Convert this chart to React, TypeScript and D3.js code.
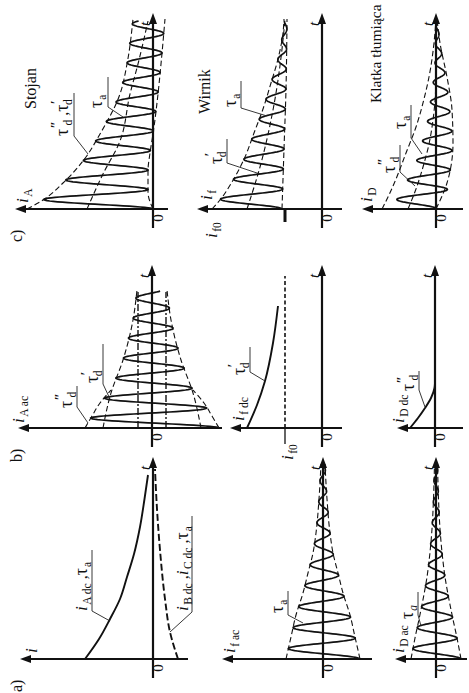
import React from "react";
import * as d3 from "d3";

const FONT = "'Liberation Serif', 'Times New Roman', serif";
const INK = "#111";

// ---------- data (t = time along the axis, i = current; both in axis units) ----------
// a) stator dc components
const tAdc = [0, 20, 40, 60, 82, 105, 132, 160, 184];
const iAdc = [68, 54, 43, 33, 26, 19, 13, 8.5, 5];
const tBCdc = [0, 27, 60, 109, 150, 190];
const iBCdc = [-25, -17, -12, -7, -4, -2];
// a) rotor and damper ac components (symmetric envelopes)
const tFac = [0, 22, 44, 66, 86, 106, 126, 160, 195];
const envFac = [37, 32, 27, 20, 15, 10, 7, 4, 2];
const tDac = [0, 21, 42, 62, 82, 102, 130, 160, 195];
const envDac = [25, 21, 16.5, 12.5, 9, 6.5, 4, 2.5, 1.5];
// b) stator ac component
const tAacTrans = [0, 35, 68, 108, 138];
const envAacTrans = [49, 41, 29, 19, 15];
const tAacSub = [0, 12, 25, 38];
const envAacSub = [67, 60, 52, 41];
const tAacWave = [0, 12, 25, 40, 68, 108, 138];
const envAacWave = [67, 60, 51, 40, 29, 19, 15];
const iAss = 14;
const tAssEnd = 136;
// b) rotor and damper dc components
const tFdc = [0, 23, 47, 85, 122];
const iFdc = [75, 65, 57, 49, 44];
const iF0 = 37;
const tF0End = 152;
const tDdc = [0, 10, 20, 30, 40, 45];
const iDdc = [25, 17, 10, 4, 0.5, 0];
// c) stator total current
const tAupper = [0, 9, 26, 48, 75, 115, 145, 190];
const iAupper = [126, 110, 90, 70, 53, 33, 26, 20];
const tAlower = [0, 17, 38, 56, 75, 115, 145, 190];
const iAlower = [0, 5, 5, 3, 0, -5, -8, -12];
const tAmid = [0, 35, 68, 115, 145, 188];
const iAmid = [66, 50, 33, 23, 15, 5];
// c) rotor total current
const tFupper = [0, 9, 27, 52, 76, 100, 126, 150, 176, 190];
const iFupper = [110, 102, 90, 77, 68, 59, 51, 44, 39, 38];
const tFlower = [0, 60, 120, 190];
const iFlower = [40, 38, 36, 35];
const tFmid = [0, 42, 99, 169, 190];
const iFmid = [75, 62, 49, 39, 37];
// c) damper total current
const tDupperEnv = [0, 12, 30, 56, 82, 110, 132, 166, 190];
const iDupperEnv = [54, 48, 40, 30, 20, 12, 7, 2, 0];
const tDmid = [0, 20, 42, 65, 89, 116, 140];
const iDmid = [28, 20, 13, 7, 3, 0.5, 0];
const tDlowerEnv = [0, 26, 66, 99, 132, 166, 190];
const iDlowerEnv = [0, -11, -17, -16, -11, -4, -1];
const tDwaveUp = [0, 8, 26, 46, 66, 84, 104, 124, 146, 190];
const iDwaveUp = [45, 40, 30, 20, 14, 9, 6, 3, 1, 0];
const tDwaveLo = [0, 17, 36, 56, 76, 96, 116, 136, 160, 190];
const iDwaveLo = [0, -11, -14, -16, -16, -14, -12, -9, -5, -1];

// ---------- layout ----------
const COL = {
  a: { y0: 659, tip: 457 },
  b: { y0: 428, tip: 265 },
  c: { y0: 209, tip: 13 },
};
const ROW = { st: 153, ro: 323, dm: 436 };

type Pt = [number, number];
const pairs = (ts: number[], vs: number[]): Pt[] => ts.map((t, i) => [t, vs[i]]);
const neg = (vs: number[]) => vs.map((v) => -v);

function makeScales(x0: number, y0: number) {
  const sx = d3.scaleLinear().domain([0, 100]).range([x0, x0 - 100]);
  const sy = d3.scaleLinear().domain([0, 100]).range([y0, y0 - 100]);
  const smooth = d3
    .line<Pt>()
    .x((d) => sx(d[1]))
    .y((d) => sy(d[0]))
    .curve(d3.curveMonotoneY);
  const straight = d3
    .line<Pt>()
    .x((d) => sx(d[1]))
    .y((d) => sy(d[0]));
  return { sx, sy, smooth, straight };
}

// oscillation filling the band between an upper and a lower envelope
function oscillation(
  tU: number[],
  vU: number[],
  tL: number[],
  vL: number[],
  period: number,
  tEnd: number
): Pt[] {
  const U = d3.scaleLinear().domain(tU).range(vU).clamp(true);
  const L = d3.scaleLinear().domain(tL).range(vL).clamp(true);
  return d3.range(0, tEnd + 0.01, 0.4).map((t) => {
    const c = (U(t) + L(t)) / 2;
    const a = (U(t) - L(t)) / 2;
    return [t, c - a * Math.cos((2 * Math.PI * t) / period)] as Pt;
  });
}

function Axes({ x0, y0, tip, iFrom, iTo }: { x0: number; y0: number; tip: number; iFrom: number; iTo: number }) {
  return (
    <g>
      <line x1={iFrom + 8} y1={y0} x2={iTo} y2={y0} stroke={INK} strokeWidth={2.2} />
      <path d={`M${iFrom},${y0} L${iFrom + 11},${y0 - 4} L${iFrom + 11},${y0 + 4} Z`} fill={INK} />
      <line x1={x0} y1={y0 + 19} x2={x0} y2={tip + 8} stroke={INK} strokeWidth={2.2} />
      <path d={`M${x0},${tip} L${x0 - 4},${tip + 11} L${x0 + 4},${tip + 11} Z`} fill={INK} />
      <RT x={x0 - 3} y={tip + 13} size={15} italic>
        t
      </RT>
      <RT x={x0 + 10} y={y0 + 9} size={15} anchor="middle">
        0
      </RT>
    </g>
  );
}

function RT({
  x,
  y,
  size = 16,
  anchor = "start",
  italic = false,
  children,
}: {
  x: number;
  y: number;
  size?: number;
  anchor?: string;
  italic?: boolean;
  children: React.ReactNode;
}) {
  return (
    <text
      transform={`translate(${x},${y}) rotate(-90)`}
      fontFamily={FONT}
      fontSize={size}
      textAnchor={anchor}
      fontStyle={italic ? "italic" : "normal"}
      fill={INK}
    >
      {children}
    </text>
  );
}

// current symbol with subscript, e.g. i_{A dc}
function Cur({ sub, size = 17 }: { sub: string; size?: number }) {
  return (
    <>
      <tspan fontStyle="italic" fontSize={size}>
        i
      </tspan>
      <tspan fontSize={size * 0.68} dy={3.5} dx={1.5}>
        {sub}
      </tspan>
      <tspan dy={-3.5}> </tspan>
    </>
  );
}

// tau with optional prime marks and subscript
function Tau({ prime = "", sub, italicSub = false }: { prime?: string; sub: string; italicSub?: boolean }) {
  return (
    <>
      <tspan fontSize={18}>τ</tspan>
      {prime ? (
        <>
          <tspan fontSize={14} dy={-7} fontStyle="italic" fontWeight="bold">
            {prime}
          </tspan>
          <tspan fontSize={11.5} dy={11} dx={prime.length > 1 ? -8 : -4.5} fontStyle={italicSub ? "italic" : "normal"}>
            {sub}
          </tspan>
          <tspan dy={-4}> </tspan>
        </>
      ) : (
        <>
          <tspan fontSize={11.5} dy={4} dx={1} fontStyle={italicSub ? "italic" : "normal"}>
            {sub}
          </tspan>
          <tspan dy={-4}> </tspan>
        </>
      )}
    </>
  );
}

function Leader({ ux, y1, y2, tx, ty }: { ux: number; y1: number; y2: number; tx: number; ty: number }) {
  return <polyline points={`${ux},${y1} ${ux},${y2} ${tx},${ty}`} fill="none" stroke="#222" strokeWidth={0.9} />;
}

const DASH = "5.5 3";

export default function App() {
  const aSt = makeScales(ROW.st, COL.a.y0);
  const aRo = makeScales(ROW.ro, COL.a.y0);
  const aDm = makeScales(ROW.dm, COL.a.y0);
  const bSt = makeScales(152, COL.b.y0);
  const bRo = makeScales(322, COL.b.y0);
  const bDm = makeScales(435, COL.b.y0);
  const cSt = makeScales(ROW.st, COL.c.y0);
  const cRo = makeScales(322, COL.c.y0);
  const cDm = makeScales(ROW.dm, COL.c.y0);

  const waveFac = oscillation(tFac, envFac, tFac, neg(envFac), 21, 195);
  const waveDac = oscillation(tDac, envDac, tDac, neg(envDac), 21, 195);
  const waveAac = oscillation(tAacWave, envAacWave, tAacWave, neg(envAacWave), 20, 137);
  const waveA = oscillation(tAupper, iAupper, tAlower, iAlower, 19.5, 188);
  const waveF = oscillation(tFupper, iFupper, tFlower, iFlower, 20, 188);
  const waveD = oscillation(tDwaveUp, iDwaveUp, tDwaveLo, iDwaveLo, 19.5, 190);

  const thin = { fill: "none", stroke: INK, strokeWidth: 1.1, strokeDasharray: DASH };
  const heavy = { fill: "none", stroke: INK, strokeWidth: 1.7 };
  const solid = { fill: "none", stroke: INK, strokeWidth: 1.9 };

  return (
    <svg
      width={469}
      height={693}
      viewBox="0 0 469 693"
      style={{ position: "absolute", left: 0, top: 0, background: "#fff" }}
    >
      <rect width={469} height={693} fill="#fff" />

      {/* ---------------- column a) ---------------- */}
      <RT x={22} y={692} size={16}>
        a)
      </RT>
      <Axes x0={ROW.st} y0={COL.a.y0} tip={COL.a.tip} iFrom={20} iTo={188} />
      <path d={aSt.smooth(pairs(tAdc, iAdc)) || ""} {...solid} />
      <path d={aSt.smooth(pairs(tBCdc, iBCdc)) || ""} {...solid} strokeDasharray="7 3" />
      <RT x={37} y={653} size={17}>
        <tspan fontStyle="italic">i</tspan>
      </RT>
      <RT x={87} y={611}>
        <Cur sub="A dc" />
        <tspan>,</tspan>
        <Tau sub="a" />
      </RT>
      <Leader ux={92} y1={550} y2={611} tx={110} ty={621} />
      <RT x={188} y={611}>
        <Cur sub="B dc" />
        <tspan>,</tspan>
        <Cur sub="C dc" />
        <tspan>,</tspan>
        <Tau sub="a" />
      </RT>
      <Leader ux={192} y1={516} y2={612} tx={170} ty={632} />

      <Axes x0={ROW.ro} y0={COL.a.y0} tip={COL.a.tip} iFrom={222} iTo={372} />
      <path d={aRo.smooth(pairs(tFac, envFac)) || ""} {...thin} />
      <path d={aRo.smooth(pairs(tFac, neg(envFac))) || ""} {...thin} />
      <path d={aRo.straight(waveFac) || ""} {...heavy} />
      <RT x={235} y={653}>
        <Cur sub="f ac" />
      </RT>
      <RT x={283} y={613}>
        <Tau sub="a" />
      </RT>
      <Leader ux={288} y1={591} y2={615} tx={303} ty={623} />

      <Axes x0={ROW.dm} y0={COL.a.y0} tip={COL.a.tip} iFrom={395} iTo={467} />
      <path d={aDm.smooth(pairs(tDac, envDac)) || ""} {...thin} />
      <path d={aDm.smooth(pairs(tDac, neg(envDac))) || ""} {...thin} />
      <path d={aDm.straight(waveDac) || ""} {...heavy} />
      <RT x={404} y={653}>
        <Cur sub="D ac" />
      </RT>
      <RT x={413} y={619}>
        <Tau sub="a" italicSub />
      </RT>
      <Leader ux={418} y1={592} y2={615} tx={421} ty={626} />

      {/* ---------------- column b) ---------------- */}
      <RT x={22} y={462} size={16}>
        b)
      </RT>
      <Axes x0={152} y0={COL.b.y0} tip={COL.b.tip} iFrom={18} iTo={222} />
      <path d={bSt.straight(pairs([0, tAssEnd], [iAss, iAss])) || ""} fill="none" stroke={INK} strokeWidth={1.4} strokeDasharray="7 2 2 2" />
      <path d={bSt.straight(pairs([0, tAssEnd], [-iAss, -iAss])) || ""} fill="none" stroke={INK} strokeWidth={1.4} strokeDasharray="7 2 2 2" />
      <path d={bSt.smooth(pairs(tAacTrans, envAacTrans)) || ""} {...thin} />
      <path d={bSt.smooth(pairs(tAacTrans, neg(envAacTrans))) || ""} {...thin} />
      <path d={bSt.smooth(pairs(tAacSub, envAacSub)) || ""} {...thin} />
      <path d={bSt.smooth(pairs(tAacSub, neg(envAacSub))) || ""} {...thin} />
      <path d={bSt.straight(waveAac) || ""} {...heavy} />
      <RT x={24} y={423}>
        <Cur sub="A ac" />
      </RT>
      <RT x={72} y={408}>
        <Tau prime="″" sub="d" />
      </RT>
      <Leader ux={77} y1={386} y2={407} tx={88} ty={423} />
      <RT x={98} y={383}>
        <Tau prime="′" sub="d" />
      </RT>
      <Leader ux={103} y1={344} y2={384} tx={110} ty={399} />

      <Axes x0={322} y0={COL.b.y0} tip={COL.b.tip} iFrom={230} iTo={342} />
      <path d={bRo.straight(pairs([0, tF0End], [iF0, iF0])) || ""} fill="none" stroke={INK} strokeWidth={1.6} strokeDasharray="4 2.5" />
      <line x1={322 - iF0} y1={COL.b.y0} x2={322 - iF0} y2={COL.b.y0 + 16} stroke={INK} strokeWidth={1.3} />
      <path d={bRo.smooth(pairs(tFdc, iFdc)) || ""} {...solid} />
      <RT x={244} y={421}>
        <Cur sub="f dc" />
      </RT>
      <RT x={293} y={460}>
        <Cur sub="f0" />
      </RT>
      <RT x={245} y={375}>
        <Tau prime="′" sub="d" />
      </RT>
      <Leader ux={250} y1={347} y2={372} tx={265} ty={381} />

      <Axes x0={435} y0={COL.b.y0} tip={COL.b.tip} iFrom={397} iTo={463} />
      <path d={bDm.smooth(pairs(tDdc, iDdc)) || ""} {...solid} />
      <RT x={404} y={423}>
        <Cur sub="D dc" />
      </RT>
      <RT x={414} y={391}>
        <Tau prime="″" sub="d" />
      </RT>
      <Leader ux={419} y1={371} y2={390} tx={425} ty={407} />

      {/* ---------------- column c) ---------------- */}
      <RT x={22} y={242} size={16}>
        c)
      </RT>
      <Axes x0={ROW.st} y0={COL.c.y0} tip={COL.c.tip} iFrom={15} iTo={168} />
      <path d={cSt.smooth(pairs(tAupper, iAupper)) || ""} {...thin} />
      <path d={cSt.smooth(pairs(tAlower, iAlower)) || ""} {...thin} />
      <path d={cSt.smooth(pairs(tAmid, iAmid)) || ""} {...thin} />
      <path d={cSt.straight(waveA) || ""} {...heavy} />
      <RT x={28} y={203}>
        <Cur sub="A" />
      </RT>
      <RT x={36} y={109} size={16}>
        Stojan
      </RT>
      <RT x={68} y={136}>
        <Tau prime="″" sub="d" />
        <tspan>,</tspan>
        <Tau prime="′" sub="d" />
      </RT>
      <Leader ux={74} y1={93} y2={136} tx={88} ty={154} />
      <RT x={102} y={108}>
        <Tau sub="a" />
      </RT>
      <Leader ux={108} y1={77} y2={107} tx={123} ty={117} />

      <Axes x0={322} y0={COL.c.y0} tip={COL.c.tip} iFrom={197} iTo={342} />
      <path d={cRo.smooth(pairs(tFupper, iFupper)) || ""} {...thin} />
      <path d={cRo.smooth(pairs(tFlower, iFlower)) || ""} {...thin} />
      <path d={cRo.smooth(pairs(tFmid, iFmid)) || ""} {...thin} />
      <path d={cRo.straight(waveF) || ""} {...heavy} />
      <line x1={322 - iF0} y1={COL.c.y0} x2={322 - iF0} y2={COL.c.y0 + 13} stroke={INK} strokeWidth={3} />
      <RT x={212} y={200}>
        <Cur sub="f" />
      </RT>
      <RT x={217} y={238}>
        <Cur sub="f0" />
      </RT>
      <RT x={210} y={114} size={16}>
        Wirnik
      </RT>
      <RT x={222} y={164}>
        <Tau prime="′" sub="d" />
      </RT>
      <Leader ux={227} y1={139} y2={163} tx={260} ty={174} />
      <RT x={236} y={107}>
        <Tau sub="a" />
      </RT>
      <Leader ux={241} y1={81} y2={108} tx={267} ty={116} />

      <Axes x0={ROW.dm} y0={COL.c.y0} tip={COL.c.tip} iFrom={362} iTo={463} />
      <path d={cDm.smooth(pairs(tDupperEnv, iDupperEnv)) || ""} {...thin} />
      <path d={cDm.smooth(pairs(tDmid, iDmid)) || ""} {...thin} />
      <path d={cDm.smooth(pairs(tDlowerEnv, iDlowerEnv)) || ""} {...thin} />
      <path d={cDm.straight(waveD) || ""} {...heavy} />
      <RT x={372} y={202}>
        <Cur sub="D" />
      </RT>
      <RT x={381} y={103} size={15.5}>
        Klatka tłumiąca
      </RT>
      <RT x={395} y={173}>
        <Tau prime="″" sub="d" />
      </RT>
      <Leader ux={400} y1={145} y2={172} tx={415} ty={186} />
      <RT x={406} y={129}>
        <Tau sub="a" />
      </RT>
      <Leader ux={411} y1={105} y2={138} tx={422} ty={154} />
    </svg>
  );
}
